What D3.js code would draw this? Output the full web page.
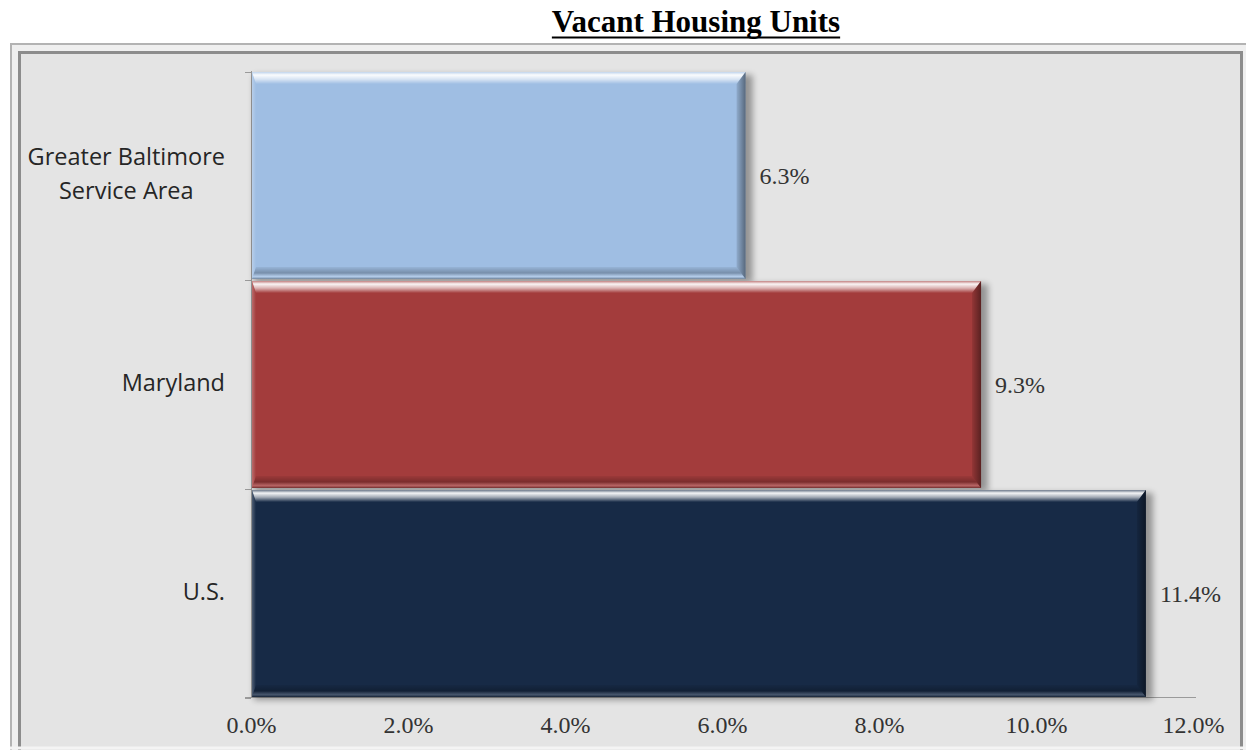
<!DOCTYPE html>
<html>
<head>
<meta charset="utf-8">
<script src="https://cdn.jsdelivr.net/npm/d3@7"></script>
<style>
    body { margin: 0; background: #fff; }
    svg { display: block; }
</style>
</head>
<body>
<div id="chart"></div>
<script>
const chartTitle = "Vacant Housing Units";
const categories = ["Greater Baltimore Service Area", "Maryland", "U.S."];
const categoryLines = [["Greater Baltimore", "Service Area"], ["Maryland"], ["U.S."]];
const vacantPct = [6.3, 9.3, 11.4];
const barColors = ["#9fbee3", "#a33c3c", "#172a46"];
const xTicks = [0, 2, 4, 6, 8, 10, 12];

const W = 1246, H = 750;

const svg = d3.select("#chart").append("svg")
    .attr("width", W)
    .attr("height", H);

const defs = svg.append("defs");

// blurred shadow behind the bars
defs.append("filter")
    .attr("id", "shadow")
    .attr("x", "-10%").attr("y", "-10%")
    .attr("width", "130%").attr("height", "130%")
    .append("feGaussianBlur")
    .attr("stdDeviation", 3);

function addGrad(id, x1, y1, x2, y2, stops) {
    const g = defs.append("linearGradient")
        .attr("id", id)
        .attr("x1", x1).attr("y1", y1).attr("x2", x2).attr("y2", y2);
    stops.forEach(s => g.append("stop")
        .attr("offset", s[0])
        .attr("stop-color", s[1])
        .attr("stop-opacity", s[2]));
}
addGrad("topBevel", 0, 0, 0, 1, [[0, "#fff", 0.35], [0.25, "#fff", 0.95], [0.6, "#fff", 0.6], [1, "#fff", 0]]);
addGrad("bottomBevel", 0, 0, 0, 1, [[0, "#000", 0.05], [0.5, "#000", 0.25], [0.8, "#fff", 0.2], [1, "#000", 0.3]]);
addGrad("rightBevel", 0, 0, 1, 0, [[0, "#000", 0.1], [1, "#000", 0.45]]);
addGrad("leftBevel", 0, 0, 1, 0, [[0, "#fff", 0.25], [1, "#fff", 0]]);

// frame
svg.append("rect")
    .attr("x", 11).attr("y", 44)
    .attr("width", 1250).attr("height", 730)
    .attr("fill", "#efefef")
    .attr("stroke", "#b3b3b3")
    .attr("stroke-width", 2);
svg.append("rect")
    .attr("x", 19.5).attr("y", 52.5)
    .attr("width", 1222).attr("height", 720)
    .attr("fill", "#e4e4e4")
    .attr("stroke", "#8c8c8c")
    .attr("stroke-width", 3);
svg.append("line")
    .attr("x1", 10).attr("x2", W)
    .attr("y1", 748).attr("y2", 748)
    .attr("stroke", "#f4f4f4")
    .attr("stroke-width", 3);

// title
const title = svg.append("text")
    .attr("x", 696).attr("y", 32)
    .attr("text-anchor", "middle")
    .attr("font-family", "'Liberation Serif', 'Times New Roman', serif")
    .attr("font-weight", "bold")
    .attr("font-size", 31)
    .attr("fill", "#000")
    .text(chartTitle);
const tb = title.node().getBBox();
svg.append("line")
    .attr("x1", tb.x).attr("x2", tb.x + tb.width)
    .attr("y1", 37.5).attr("y2", 37.5)
    .attr("stroke", "#000")
    .attr("stroke-width", 2);

const x = d3.scaleLinear().domain([0, 12]).range([251, 1193]);
const y = d3.scaleBand().domain(categories).range([72, 697]).paddingInner(0.01);

const data = categories.map((c, i) => ({ cat: c, lines: categoryLines[i], value: vacantPct[i], color: barColors[i] }));

// x axis
const xAxis = svg.append("g")
    .attr("transform", `translate(0,697)`)
    .call(d3.axisBottom(x).tickValues(xTicks).tickSize(0).tickPadding(19).tickFormat(d => d.toFixed(1) + "%"));
xAxis.select(".domain").attr("stroke", "#9a9a9a").attr("d", "M245,0.5H1196");
xAxis.selectAll("text")
    .attr("font-family", "'Liberation Serif', 'Times New Roman', serif")
    .attr("font-size", 24)
    .attr("fill", "#333");

// y axis line and category dividers
svg.append("line")
    .attr("x1", 251.5).attr("x2", 251.5)
    .attr("y1", 71).attr("y2", 697)
    .attr("stroke", "#9a9a9a");
const bounds = [y.range()[0]].concat(categories.map(c => y(c) + y.bandwidth() + y.step() * y.paddingInner() / 2));
svg.selectAll(".ytick")
    .data(bounds)
    .enter().append("line")
    .attr("x1", 245).attr("x2", 251)
    .attr("y1", d => Math.round(d) + 0.5).attr("y2", d => Math.round(d) + 0.5)
    .attr("stroke", "#9a9a9a");

// bars
const bars = svg.selectAll(".bar")
    .data(data)
    .enter().append("g")
    .attr("class", "bar");

bars.append("rect")
    .attr("x", x(0) + 3)
    .attr("y", d => y(d.cat) + 3)
    .attr("width", d => x(d.value) - x(0) + 4)
    .attr("height", y.bandwidth())
    .attr("fill", "#000")
    .attr("opacity", 0.35)
    .attr("filter", "url(#shadow)");

bars.append("rect")
    .attr("x", x(0) + 1)
    .attr("y", d => y(d.cat))
    .attr("width", d => x(d.value) - x(0) - 1)
    .attr("height", y.bandwidth())
    .attr("fill", d => d.color);

const bv = 12, bvSide = 9;
function bevelPath(d, side) {
    const x0 = x(0) + 1, x1 = x(d.value), y0 = y(d.cat), y1 = y0 + y.bandwidth();
    if (side === "top") return `M${x0},${y0}H${x1}L${x1 - bvSide},${y0 + bv}H${x0 + 4}Z`;
    if (side === "bottom") return `M${x0},${y1}H${x1}L${x1 - bvSide},${y1 - bv}H${x0 + 4}Z`;
    if (side === "right") return `M${x1},${y0}V${y1}L${x1 - bvSide},${y1 - bv}V${y0 + bv}Z`;
    return `M${x0},${y0}V${y1}L${x0 + 4},${y1 - bv}V${y0 + bv}Z`;
}
bars.append("path").attr("d", d => bevelPath(d, "top")).attr("fill", "url(#topBevel)");
bars.append("path").attr("d", d => bevelPath(d, "bottom")).attr("fill", "url(#bottomBevel)");
bars.append("path").attr("d", d => bevelPath(d, "right")).attr("fill", "url(#rightBevel)");
bars.append("path").attr("d", d => bevelPath(d, "left")).attr("fill", "url(#leftBevel)");

// value labels
svg.selectAll(".value")
    .data(data)
    .enter().append("text")
    .attr("class", "value")
    .attr("x", d => x(d.value) + 14)
    .attr("y", d => y(d.cat) + y.bandwidth() / 2 + 3)
    .attr("dominant-baseline", "middle")
    .attr("font-family", "'Liberation Serif', 'Times New Roman', serif")
    .attr("font-size", 24)
    .attr("fill", "#333")
    .text(d => d.value.toFixed(1) + "%");

// category labels
const lineH = 34;
const catLabels = svg.selectAll(".cat")
    .data(data)
    .enter().append("text")
    .attr("class", "cat")
    .attr("font-family", "'Open Sans', 'DejaVu Sans', sans-serif")
    .attr("font-size", 23.5)
    .attr("fill", "#262626");
catLabels.each(function(d) {
    const t = d3.select(this);
    const cy = y(d.cat) + y.bandwidth() / 2;
    const n = d.lines.length;
    d.lines.forEach((ln, i) => {
        t.append("tspan")
            .attr("y", cy + (i - (n - 1) / 2) * lineH)
            .attr("dominant-baseline", "middle")
            .text(ln);
    });
    // right-align the block, centre lines inside it
    const w = d3.max(t.selectAll("tspan").nodes(), s => s.getComputedTextLength());
    t.selectAll("tspan")
        .attr("text-anchor", "middle")
        .attr("x", 225 - w / 2);
});
</script>
</body>
</html>
